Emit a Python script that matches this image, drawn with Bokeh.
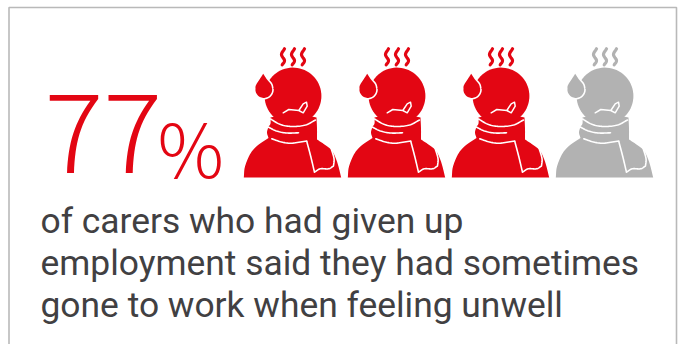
import numpy as np
from bokeh.core.properties import value
from bokeh.embed import file_html
from bokeh.models import Range1d
from bokeh.plotting import figure
from bokeh.resources import INLINE

# Figures shown on the card
share_label = "77"
unit_label = "%"
caption_lines = [
    "of carers who had given up",
    "employment said they had sometimes",
    "gone to work when feeling unwell",
]
icon_states = [True, True, True, False]  # coloured people out of four

RED = "#e30613"
GREY = "#b2b2b2"
INK = "#414042"
FRAME = "#b9b9b9"
TEXT_FONT = "Roboto"
LIGHT_FONT = "Noto Sans CJK SC Light"


def smooth(points, n=10):
    """Catmull-Rom curve through the given points."""
    pts = np.array(points, dtype=float)
    pad = np.vstack([2 * pts[0] - pts[1], pts, 2 * pts[-1] - pts[-2]])
    out = []
    for i in range(1, len(pad) - 2):
        p0, p1, p2, p3 = pad[i - 1], pad[i], pad[i + 1], pad[i + 2]
        for t in np.linspace(0, 1, n, endpoint=False):
            out.append(
                0.5 * (2 * p1 + (p2 - p0) * t
                       + (2 * p0 - 5 * p1 + 4 * p2 - p3) * t ** 2
                       + (3 * p1 - p0 - 3 * p2 + p3) * t ** 3)
            )
    out.append(pts[-1])
    return np.array(out)


def circle_points(cx, cy, r, start=0.0, stop=360.0, n=72):
    a = np.radians(np.linspace(start, stop, n))
    return np.column_stack([cx + r * np.cos(a), cy + r * np.sin(a)])


# Pictogram outline; x is measured from the icon's left edge, y down the card
body = np.vstack([
    smooth([(0.3, 177), (1.5, 166), (7, 153), (14, 145), (25, 137.5)]),
    smooth([(25, 137.5), (23.5, 132), (25, 126.5), (27, 123), (27, 117)]),
    np.array([(49, 112), (73, 117)]),
    smooth([(73, 117), (73.5, 128), (73.5, 139)]),
    smooth([(73.5, 139), (81.7, 144.5), (88.3, 150), (93.5, 161), (97.7, 177)]),
])
head = circle_points(49.5, 95.5, 28.4)
drop = np.vstack([
    smooth([(19.7, 73.3), (16, 79), (12.3, 85), (12, 89)]),
    circle_points(20.3, 89, 8.4, 180, 0, 30),
    smooth([(28.7, 89), (27.5, 84), (23.5, 79), (19.7, 73.3)]),
])
steam = [
    smooth([(41, 48.3), (38, 54), (41, 60), (38.7, 64.3)]),
    smooth([(51, 48.3), (48, 54), (51, 60), (48.7, 64.3)]),
    smooth([(61, 48.3), (58, 54), (61, 60), (58.7, 64.3)]),
]
creases = [
    smooth([(27, 118.5), (37, 124), (49, 126), (62, 124.5), (72, 119.5)]),
    smooth([(25, 126.7), (33, 130.5), (43, 132.5), (55, 132.3)]),
    smooth([(28.3, 138.3), (38, 141.5), (48, 142.7), (63.3, 140.5)]),
    np.vstack([
        smooth([(63.3, 141), (67, 155), (71, 171.7)]),
        smooth([(71, 171.7), (76.7, 168.3), (85, 168.3), (90, 165.5)]),
        smooth([(90, 165.5), (90.5, 158), (87.5, 147.5)]),
    ]),
]
mouth = np.array([
    (39.7, 112.3), (45.3, 109), (55.3, 110), (59.7, 103.3), (63, 101.7),
    (63.7, 105.7), (59.7, 112.3), (55.3, 110),
])

p = figure(
    width=680, height=344, output_backend="svg", toolbar_location=None,
    x_range=Range1d(0, 680), y_range=Range1d(344, 0),
    min_border=0, outline_line_color=None,
)
p.axis.visible = False
p.grid.visible = False
p.background_fill_color = "white"
p.border_fill_color = "white"

# Card frame, open along the bottom
p.line([8.5, 8.5, 676, 676], [344, 7, 7, 344], line_color=FRAME, line_width=1.6)

# Row of people, one per quarter
icon_left = 243
icon_step = 104
for i, filled in enumerate(icon_states):
    colour = RED if filled else GREY
    x0 = icon_left + i * icon_step
    p.patch(x0 + body[:, 0], body[:, 1], fill_color=colour, line_color=None)
    p.patch(x0 + head[:, 0], head[:, 1], fill_color=colour, line_color=None)
    for c in creases:
        p.line(x0 + c[:, 0], c[:, 1], line_color="white", line_width=1.6,
               line_cap="round", line_join="round")
    # White halo first, so the drop keeps its full size on top
    p.patch(x0 + drop[:, 0], drop[:, 1], fill_color="white", line_color="white",
            line_width=3.2)
    p.patch(x0 + drop[:, 0], drop[:, 1], fill_color=colour, line_color=None)
    for s in steam:
        p.line(x0 + s[:, 0], s[:, 1], line_color=colour, line_width=3.2,
               line_cap="round")
    p.line(x0 + mouth[:, 0], mouth[:, 1], line_color="white", line_width=1.5,
           line_join="round", line_cap="round")

# Headline figure
p.text([44], [172 - 0.36 * 110], text=[share_label], text_color=RED,
       text_font=value(LIGHT_FONT), text_font_size="110px",
       text_baseline="alphabetic", text_align="left")
p.text([157], [172 - 0.36 * 74], text=[unit_label], text_color=RED,
       text_font=value(LIGHT_FONT), text_font_size="74px",
       text_baseline="alphabetic", text_align="left")

# Caption
p.text([40, 40, 40], [220, 262, 304], text=caption_lines, text_color=INK,
       text_font=value(TEXT_FONT), text_font_size="35.4px",
       text_baseline="alphabetic", text_align="left")

open("out.html", "w").write(file_html(p, INLINE))
